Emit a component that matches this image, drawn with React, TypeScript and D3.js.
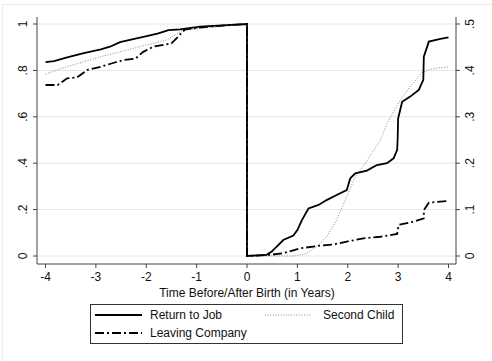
import React from "react";
import * as d3 from "d3";

const xTicks = [-4, -3, -2, -1, 0, 1, 2, 3, 4];
const yLeftTicks = [0, 0.2, 0.4, 0.6, 0.8, 1];
const yLeftLabels = ["0", ".2", ".4", ".6", ".8", "1"];
const yRightTicks = [0, 0.1, 0.2, 0.3, 0.4, 0.5];
const yRightLabels = ["0", ".1", ".2", ".3", ".4", ".5"];

// Return to Job: [year, share]
const returnToJob: [number, number][] = [
  [-4, 0.836], [-3.83, 0.84], [-3.57, 0.856], [-3.24, 0.874], [-2.9, 0.891], [-2.72, 0.902],
  [-2.52, 0.922], [-2.26, 0.935], [-1.99, 0.948], [-1.76, 0.96], [-1.56, 0.974], [-1.33, 0.977],
  [-0.93, 0.989], [-0.4, 0.995], [0, 1.0],
  [0, 0], [0.39, 0.005], [0.49, 0.019], [0.72, 0.069], [0.92, 0.088], [1.0, 0.112], [1.09, 0.155],
  [1.22, 0.205], [1.42, 0.22], [1.58, 0.241], [1.78, 0.263], [1.98, 0.284], [2.05, 0.335],
  [2.15, 0.356], [2.38, 0.368], [2.58, 0.392], [2.78, 0.4], [2.91, 0.421], [2.98, 0.457],
  [2.99, 0.5], [3.0, 0.593], [3.08, 0.665], [3.24, 0.687], [3.41, 0.716], [3.5, 0.759],
  [3.51, 0.859], [3.61, 0.924], [3.84, 0.936], [4.0, 0.942],
];

const secondChild: [number, number][] = [
  [-4, 0.784], [-3.57, 0.816], [-2.9, 0.859], [-2.26, 0.895], [-1.6, 0.931], [-1.29, 0.971],
  [-0.93, 0.98], [-0.27, 0.995], [0, 1.0],
  [0, 0], [0.53, 0], [0.93, 0], [1.19, 0.011], [1.39, 0.043], [1.58, 0.083], [1.78, 0.155],
  [1.98, 0.256], [2.15, 0.342], [2.35, 0.4], [2.52, 0.457], [2.65, 0.5], [2.78, 0.572],
  [3.04, 0.672], [3.24, 0.73], [3.47, 0.79], [3.64, 0.805], [3.84, 0.812], [4.0, 0.815],
];

const leavingCompany: [number, number][] = [
  [-4, 0.737], [-3.76, 0.737], [-3.57, 0.766], [-3.37, 0.77], [-3.17, 0.802], [-2.9, 0.816],
  [-2.64, 0.833], [-2.45, 0.845], [-2.22, 0.85], [-2.06, 0.88], [-1.86, 0.902], [-1.66, 0.91],
  [-1.5, 0.916], [-1.4, 0.938], [-1.23, 0.977], [-0.8, 0.988], [-0.3, 0.996], [0, 1.0],
  [0, 0], [0.46, 0.005], [0.72, 0.012], [1.05, 0.033], [1.39, 0.043], [1.72, 0.05],
  [1.98, 0.062], [2.31, 0.076], [2.65, 0.083], [2.98, 0.095], [3.01, 0.134], [3.31, 0.148],
  [3.51, 0.162], [3.51, 0.198], [3.61, 0.23], [3.84, 0.234], [4.0, 0.237],
];

const legendLabels = ["Return to Job", "Second Child", "Leaving Company"];

export default function App() {
  const W = 492, H = 361;
  const x = d3.scaleLinear().domain([-4, 4]).range([45.5, 448.5]);
  const yL = d3.scaleLinear().domain([0, 1]).range([256, 24]);
  const yR = d3.scaleLinear().domain([0, 0.5]).range([256, 24]);
  const line = d3.line<[number, number]>().x((d) => x(d[0])).y((d) => yL(d[1]));
  const plotL = 37, plotR = 456, plotT = 17, plotB = 264;
  const font = "'Liberation Sans', Arial, Helvetica, sans-serif";

  return (
    <svg width={W} height={H} style={{ position: "absolute", left: 0, top: 0 }} fontFamily={font}>
      <rect x={0} y={0} width={W} height={H} fill="#fff" />
      <line x1={2} y1={4.5} x2={W} y2={4.5} stroke="#ececec" />
      <line x1={2.5} y1={4} x2={2.5} y2={H} stroke="#ececec" />
      {yLeftTicks.map((t) => (
        <line key={"g" + t} x1={plotL} x2={plotR} y1={yL(t)} y2={yL(t)} stroke="#e6e6e6" strokeWidth={1} />
      ))}
      {/* axes */}
      <line x1={plotL} x2={plotL} y1={plotT} y2={plotB} stroke="#444" />
      <line x1={plotR} x2={plotR} y1={plotT} y2={plotB} stroke="#444" />
      <line x1={plotL} x2={plotR} y1={plotB} y2={plotB} stroke="#444" />
      {yLeftTicks.map((t, i) => (
        <g key={"l" + t}>
          <line x1={plotL - 4} x2={plotL} y1={yL(t)} y2={yL(t)} stroke="#444" />
          <text
            transform={`translate(${27},${yL(t)}) rotate(-90)`}
            textAnchor="middle"
            fontSize={12}
            fill="#111"
          >
            {yLeftLabels[i]}
          </text>
        </g>
      ))}
      {yRightTicks.map((t, i) => (
        <g key={"r" + t}>
          <line x1={plotR} x2={plotR + 4} y1={yR(t)} y2={yR(t)} stroke="#444" />
          <text
            transform={`translate(${474},${yR(t)}) rotate(-90)`}
            textAnchor="middle"
            fontSize={12}
            fill="#111"
          >
            {yRightLabels[i]}
          </text>
        </g>
      ))}
      {xTicks.map((t) => (
        <g key={"x" + t}>
          <line x1={x(t)} x2={x(t)} y1={plotB} y2={plotB + 4} stroke="#444" />
          <text x={x(t)} y={281} textAnchor="middle" fontSize={12} fill="#111">
            {t}
          </text>
        </g>
      ))}
      <text x={247} y={297} textAnchor="middle" fontSize={12} fill="#111">
        Time Before/After Birth (in Years)
      </text>
      {/* series */}
      <path d={line(secondChild) || ""} fill="none" stroke="#8a8a8a" strokeWidth={1} strokeDasharray="1,1.6" />
      <path d={line(leavingCompany) || ""} fill="none" stroke="#000" strokeWidth={1.8} strokeDasharray="9,3,2,3" />
      <path d={line(returnToJob) || ""} fill="none" stroke="#000" strokeWidth={1.8} />
      {/* legend */}
      <rect x={90.5} y={304.5} width={312} height={39} fill="#fff" stroke="#333" />
      <line x1={95} x2={142} y1={315} y2={315} stroke="#000" strokeWidth={1.8} />
      <text x={150} y={319} fontSize={12} fill="#111">{legendLabels[0]}</text>
      <line x1={265} x2={311} y1={315} y2={315} stroke="#8a8a8a" strokeWidth={1} strokeDasharray="1,1.6" />
      <text x={323} y={319} fontSize={12} fill="#111">{legendLabels[1]}</text>
      <line x1={95} x2={142} y1={333} y2={333} stroke="#000" strokeWidth={1.8} strokeDasharray="9,3,2,3" />
      <text x={150} y={337} fontSize={12} fill="#111">{legendLabels[2]}</text>
    </svg>
  );
}
